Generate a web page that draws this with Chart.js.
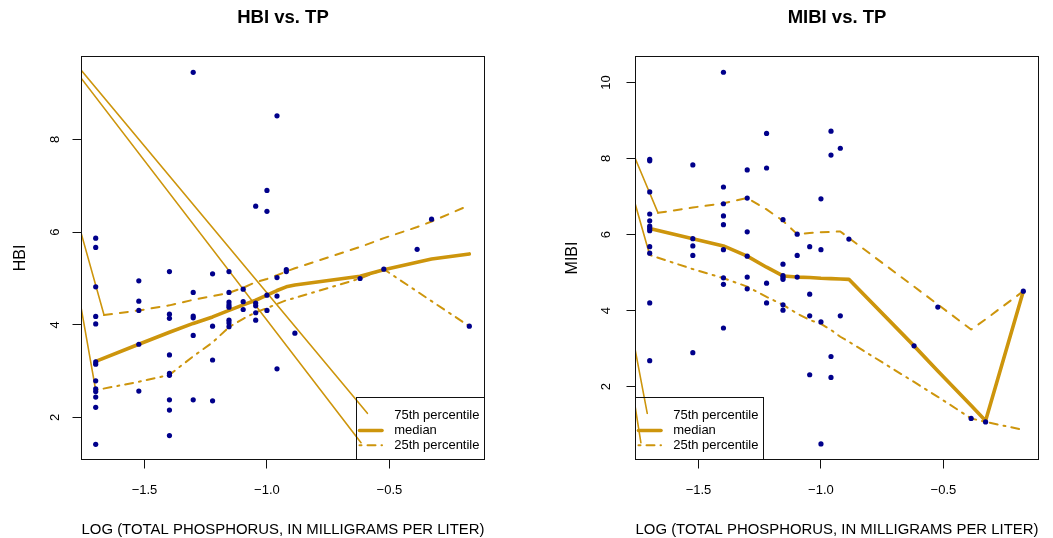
<!DOCTYPE html>
<html>
<head>
<meta charset="utf-8">
<title>HBI and MIBI vs. TP</title>
<script src="https://cdn.jsdelivr.net/npm/chart.js@4/dist/chart.umd.min.js"></script>
<style>
  html, body { margin: 0; padding: 0; background: #ffffff; }
  #wrap { position: relative; width: 1053px; height: 538px; overflow: hidden; background: #ffffff; }
  canvas { position: absolute; top: 0; }
  #hbi { left: 0; }
  #mibi { left: 553px; }
</style>
</head>
<body>
<div id="wrap">
  <canvas id="hbi" width="553" height="538"></canvas>
  <canvas id="mibi" width="500" height="538"></canvas>
</div>
<script>
// ---- shared axis data ----
const X_TICKS = [-1.5, -1.0, -0.5];
const X_MIN = -1.757, X_MAX = -0.112;
const X_TITLE = 'LOG (TOTAL PHOSPHORUS, IN MILLIGRAMS PER LITER)';
const LEGEND_LABELS = ['75th percentile', 'median', '25th percentile'];

// x positions (log10 TP) where the percentile curves are evaluated
const CURVE_X = [-1.699, -1.523, -1.398, -1.301, -1.222, -1.155, -1.097, -1.046, -1.000, -0.959, -0.921, -0.886, -0.620, -0.523, -0.387, -0.328, -0.174];
const P75_X   = [-1.665, -1.523, -1.398, -1.301, -1.222, -1.155, -1.097, -1.046, -1.000, -0.959, -0.921, -0.886, -0.620, -0.523, -0.387, -0.328, -0.174];

// ---- HBI panel ----
const HBI_TITLE = 'HBI vs. TP';
const HBI_Y_TICKS = [2, 4, 6, 8];
const HBI_Y_MIN = 1.093, HBI_Y_MAX = 9.791;
const HBI_X = [
  -1.699, -1.699, -1.699, -1.699, -1.699, -1.699, -1.699, -1.699, -1.699, -1.699, -1.699, -1.699, -1.699,
  -1.523, -1.523, -1.523, -1.523, -1.523,
  -1.398, -1.398, -1.398, -1.398, -1.398, -1.398, -1.398, -1.398, -1.398,
  -1.301, -1.301, -1.301, -1.301, -1.301, -1.301,
  -1.222, -1.222, -1.222, -1.222,
  -1.155, -1.155, -1.155, -1.155, -1.155, -1.155, -1.155, -1.155,
  -1.097, -1.097, -1.097,
  -1.046, -1.046, -1.046, -1.046, -1.046,
  -1.000, -1.000, -1.000, -1.000,
  -0.959, -0.959, -0.959, -0.959,
  -0.921, -0.921,
  -0.886, -0.620, -0.523, -0.387, -0.328, -0.174
];
const HBI_Y = [
  5.87, 5.67, 4.82, 4.18, 4.02, 3.20, 3.15, 2.79, 2.62, 2.56, 2.44, 2.22, 1.42,
  4.95, 4.51, 4.31, 3.58, 2.57,
  5.15, 4.23, 4.14, 3.35, 2.95, 2.91, 2.38, 2.16, 1.61,
  9.45, 4.70, 4.19, 4.15, 3.77, 2.38,
  5.10, 3.97, 3.24, 2.36,
  5.15, 4.70, 4.49, 4.43, 4.38, 4.10, 4.04, 3.96,
  4.77, 4.50, 4.33,
  6.56, 4.47, 4.41, 4.26, 4.10,
  6.90, 6.45, 4.64, 4.31,
  8.51, 5.02, 4.62, 3.05,
  5.19, 5.15,
  3.82, 5.00, 5.20, 5.63, 6.28, 3.97
];
const HBI_P75 = [4.21, 4.31, 4.42, 4.54, 4.62, 4.69, 4.80, 4.92, 4.99, 5.07, 5.15, 5.22, 5.68, 5.87, 6.11, 6.23, 6.58];
const HBI_MED = [3.21, 3.58, 3.84, 4.03, 4.17, 4.31, 4.43, 4.53, 4.64, 4.74, 4.82, 4.86, 5.05, 5.19, 5.35, 5.42, 5.53];
const HBI_P25 = [2.59, 2.77, 2.92, 3.32, 3.62, 3.95, 4.13, 4.27, 4.36, 4.45, 4.53, 4.58, 5.00, 5.20, 4.72, 4.51, 3.97];
// thin solid leader segments
const HBI_LEADER_X = [[-1.80, -0.590], [-1.80, -0.616], [-1.80, -1.665], [-1.80, -1.699]];
const HBI_LEADER_Y = [[9.757, 2.090], [9.609, 1.456], [6.765, 4.21], [5.609, 2.59]];

// ---- MIBI panel ----
const MIBI_TITLE = 'MIBI vs. TP';
const MIBI_Y_TICKS = [2, 4, 6, 8, 10];
const MIBI_Y_MIN = 0.08, MIBI_Y_MAX = 10.684;
const MIBI_X = [
  -1.699, -1.699, -1.699, -1.699, -1.699, -1.699, -1.699, -1.699, -1.699, -1.699, -1.699, -1.699,
  -1.523, -1.523, -1.523, -1.523, -1.523,
  -1.398, -1.398, -1.398, -1.398, -1.398, -1.398, -1.398, -1.398, -1.398,
  -1.301, -1.301, -1.301, -1.301, -1.301, -1.301,
  -1.222, -1.222, -1.222, -1.222,
  -1.155, -1.155, -1.155, -1.155, -1.155, -1.155, -1.155,
  -1.097, -1.097, -1.097,
  -1.046, -1.046, -1.046, -1.046,
  -1.000, -1.000, -1.000, -1.000,
  -0.959, -0.959, -0.959, -0.959,
  -0.921, -0.921,
  -0.886, -0.620, -0.523, -0.387, -0.328, -0.174
];
const MIBI_Y = [
  7.98, 7.94, 7.12, 6.54, 6.36, 6.22, 6.16, 6.10, 5.68, 5.51, 4.20, 2.68,
  7.83, 5.89, 5.70, 5.45, 2.89,
  10.27, 7.25, 6.81, 6.49, 6.26, 5.60, 4.86, 4.69, 3.54,
  7.70, 6.96, 6.07, 5.43, 4.88, 4.57,
  8.66, 7.75, 4.72, 4.20,
  6.39, 5.22, 4.92, 4.87, 4.82, 4.15, 4.01,
  6.01, 5.45, 4.88,
  5.68, 4.43, 3.86, 2.31,
  6.94, 5.60, 3.70, 0.49,
  8.72, 8.09, 2.79, 2.24,
  8.27, 3.86,
  5.88, 3.07, 4.09, 1.16, 1.07, 4.51
];
const MIBI_P75 = [6.57, 6.71, 6.82, 6.96, 6.66, 6.36, 6.01, 6.04, 6.06, 6.07, 6.08, 5.91, 4.63, 4.16, 3.50, 3.77, 4.51];
const MIBI_MED = [6.16, 5.89, 5.70, 5.43, 5.14, 4.91, 4.88, 4.87, 4.85, 4.84, 4.83, 4.82, 3.07, 2.41, 1.50, 1.10, 4.51];
const MIBI_P25 = [5.46, 5.09, 4.85, 4.63, 4.36, 4.15, 3.92, 3.75, 3.65, 3.49, 3.31, 3.18, 2.12, 1.73, 1.16, 1.07, 0.86];
const MIBI_LEADER_X = [[-1.80, -1.709], [-1.80, -1.735], [-1.80, -1.665], [-1.80, -1.699]];
const MIBI_LEADER_Y = [[4.385, 1.295], [3.169, 0.521], [8.64, 6.57], [7.75, 5.46]];

// ---- styling ----
const FONT = "'Liberation Sans', Arial, Helvetica, sans-serif";
const GOLD = '#CD950C';
const NAVY = '#00008B';
const INK = '#000000';

const zip = (xs, ys) => xs.map((x, i) => ({ x, y: ys[i] }));
const fmtTick = v => (v < 0 ? '\u2212' : '') + Math.abs(v).toFixed(1);

// R-style full box around the plotting region
const plotBox = {
  id: 'plotBox',
  afterDatasetsDraw(chart) {
    const { ctx, chartArea: a } = chart;
    ctx.save();
    ctx.strokeStyle = '#111';
    ctx.lineWidth = 1;
    ctx.strokeRect(a.left, a.top, a.right - a.left, a.bottom - a.top);
    ctx.restore();
  }
};

// main title centred over the plotting region
const panelTitle = {
  id: 'panelTitle',
  afterDraw(chart, args, o) {
    const { ctx, chartArea: a } = chart;
    ctx.save();
    ctx.font = `bold ${o.size}px ${FONT}`;
    ctx.fillStyle = INK;
    ctx.textAlign = 'center';
    ctx.textBaseline = 'middle';
    ctx.fillText(o.text, (a.left + a.right) / 2, o.y);
    ctx.restore();
  }
};

// boxed legend in a bottom corner of the plotting region
const cornerLegend = {
  id: 'cornerLegend',
  afterDatasetsDraw(chart, args, o) {
    const { ctx, chartArea: a } = chart;
    const w = 128, h = 62;
    const L = o.corner === 'right' ? a.right - w : a.left;
    const T = a.bottom - h;
    const rows = [T + 18.3, T + 33, T + 47.7];
    ctx.save();
    ctx.strokeStyle = '#111';
    ctx.lineWidth = 1;
    ctx.strokeRect(L, T, w, h);

    ctx.strokeStyle = GOLD;
    ctx.lineCap = 'round';
    // median sample
    ctx.lineWidth = 3.6;
    ctx.setLineDash([]);
    ctx.beginPath(); ctx.moveTo(L + 3, rows[1]); ctx.lineTo(L + 25.5, rows[1]); ctx.stroke();
    // 25th percentile sample
    ctx.lineWidth = 2;
    ctx.setLineDash([2, 6, 8, 6]);
    ctx.beginPath(); ctx.moveTo(L + 3, rows[2]); ctx.lineTo(L + 25.5, rows[2]); ctx.stroke();
    ctx.setLineDash([]);

    ctx.font = `13px ${FONT}`;
    ctx.fillStyle = INK;
    ctx.textAlign = 'left';
    ctx.textBaseline = 'middle';
    o.labels.forEach((t, i) => ctx.fillText(t, L + 37.7, rows[i]));
    ctx.restore();
  }
};

function curve(xs, ys, width, dash) {
  return {
    data: zip(xs, ys), showLine: true, borderColor: GOLD, borderWidth: width,
    borderDash: dash, borderCapStyle: 'round', borderJoinStyle: 'round',
    pointRadius: 0, tension: 0, clip: 0, order: 1
  };
}

function makePanel(id, p) {
  const datasets = [
    {
      data: zip(p.x, p.y), showLine: false, pointRadius: 2.6, pointHoverRadius: 2.6,
      backgroundColor: NAVY, borderWidth: 0, order: 0, clip: false
    },
    curve(P75_X, p.p75, 2, [8, 8]),
    curve(CURVE_X, p.med, 3.6, []),
    curve(CURVE_X, p.p25, 2, [2, 6, 8, 6])
  ];
  p.leaderX.forEach((xs, i) => datasets.push(curve(xs, p.leaderY[i], 1.6, [])));

  const tickFont = { family: FONT, size: 13 };
  return new Chart(document.getElementById(id), {
    type: 'scatter',
    data: { datasets },
    options: {
      responsive: false,
      animation: false,
      devicePixelRatio: 1,
      events: [],
      layout: { autoPadding: false, padding: { left: p.padLeft, right: p.padRight, top: 56.5, bottom: 0 } },
      plugins: {
        legend: { display: false },
        tooltip: { enabled: false },
        panelTitle: { text: p.title, size: 18.5, y: 18 },
        cornerLegend: { corner: p.legendCorner, labels: LEGEND_LABELS }
      },
      scales: {
        x: {
          type: 'linear', min: X_MIN, max: X_MAX,
          afterBuildTicks: s => { s.ticks = X_TICKS.map(v => ({ value: v })); },
          afterFit: s => { s.height = 78.5; },
          border: { display: false },
          grid: { display: true, drawOnChartArea: false, drawTicks: true, tickLength: 9, color: '#111', lineWidth: 1 },
          ticks: { font: tickFont, color: INK, padding: 14.5, maxRotation: 0, minRotation: 0, callback: v => fmtTick(v) },
          title: { display: true, text: X_TITLE, font: { family: FONT, size: 15.2 }, color: INK, padding: { top: 0, bottom: -1 } }
        },
        y: {
          type: 'linear', min: p.yMin, max: p.yMax,
          afterBuildTicks: s => { s.ticks = p.yTicks.map(v => ({ value: v })); },
          afterFit: s => { s.width = p.yWidth; },
          border: { display: false },
          grid: { display: true, drawOnChartArea: false, drawTicks: true, tickLength: 9, color: '#111', lineWidth: 1 },
          ticks: { font: tickFont, color: INK, padding: 13.3, minRotation: 90, maxRotation: 90, crossAlign: 'center', callback: v => String(v) },
          title: { display: true, text: p.yTitle, font: { family: FONT, size: 16 }, color: INK, padding: { top: p.yTitlePad, bottom: 0 } }
        }
      }
    },
    plugins: [plotBox, panelTitle, cornerLegend]
  });
}

makePanel('hbi', {
  title: HBI_TITLE, yTitle: 'HBI', x: HBI_X, y: HBI_Y,
  p75: HBI_P75, med: HBI_MED, p25: HBI_P25,
  leaderX: HBI_LEADER_X, leaderY: HBI_LEADER_Y,
  yTicks: HBI_Y_TICKS, yMin: HBI_Y_MIN, yMax: HBI_Y_MAX,
  padLeft: 0, yWidth: 81.5, padRight: 68.5, legendCorner: 'right', yTitlePad: 10.5
});

makePanel('mibi', {
  title: MIBI_TITLE, yTitle: 'MIBI', x: MIBI_X, y: MIBI_Y,
  p75: MIBI_P75, med: MIBI_MED, p25: MIBI_P25,
  leaderX: MIBI_LEADER_X, leaderY: MIBI_LEADER_Y,
  yTicks: MIBI_Y_TICKS, yMin: MIBI_Y_MIN, yMax: MIBI_Y_MAX,
  padLeft: 0.7, yWidth: 81.8, padRight: 14.5, legendCorner: 'left', yTitlePad: 9.2
});
</script>
</body>
</html>
